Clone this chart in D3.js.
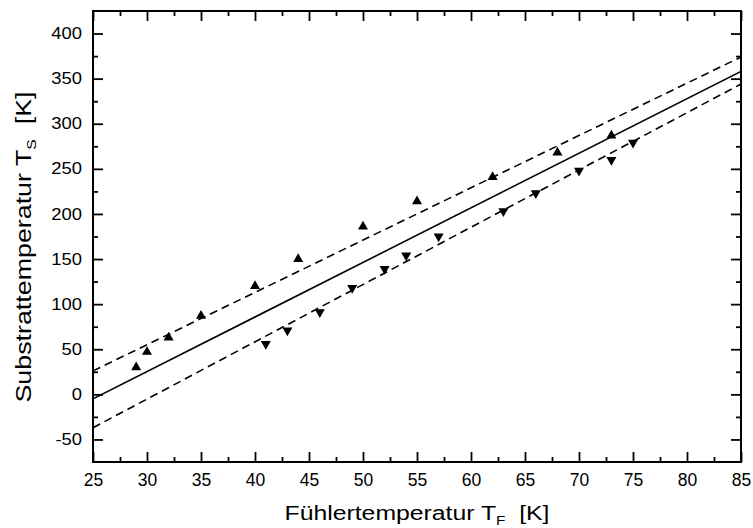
<!DOCTYPE html>
<html>
<head>
<meta charset="utf-8">
<script src="https://cdn.jsdelivr.net/npm/d3@7/dist/d3.min.js"></script>
<style>
  html, body { margin: 0; padding: 0; background: #fff; }
  svg { display: block; font-family: "Liberation Sans", Arial, Helvetica, sans-serif; }
</style>
</head>
<body>
<svg id="chart" width="753" height="528"></svg>
<script>
// ---- data ----
const upX = [29, 30, 32, 35, 40, 44, 50, 55, 62, 68, 73];
const upY = [30, 47, 63, 87, 120, 150, 186, 214, 241, 268, 287];
const downX = [41, 43, 46, 49, 52, 54, 57, 63, 66, 70, 73, 75];
const downY = [56, 71, 91, 118, 139, 154, 175, 203, 223, 248, 260, 279];
const fitX = [25, 85];
const fitMid = [-5, 358];
const fitUpper = [26, 374];
const fitLower = [-37, 344];
const xTicks = [25, 30, 35, 40, 45, 50, 55, 60, 65, 70, 75, 80, 85];
const yTicks = [-50, 0, 50, 100, 150, 200, 250, 300, 350, 400];

// ---- layout ----
const L = 93, R = 741, T = 11, B = 462;
const svg = d3.select("#chart");
const x = d3.scaleLinear().domain([25, 85]).range([L, R]);
const y = d3.scaleLinear().domain([-75, 425]).range([B, T]);

const xMinor = d3.range(27.5, 85, 5);
const yMinor = d3.range(-75, 425, 50).filter(v => v > -75);
const fmt = d => String(d);

svg.append("defs").append("clipPath").attr("id", "clip")
  .append("rect").attr("x", L).attr("y", T).attr("width", R - L).attr("height", B - T);

function styleAxis(g) {
  g.select(".domain").remove();
  g.selectAll(".tick line").attr("stroke", "#000").attr("stroke-width", 1.8);
  g.selectAll("text").attr("fill", "#000");
}
// bottom
const gx = svg.append("g").attr("transform", `translate(0,${B})`)
  .call(d3.axisBottom(x).tickValues(xTicks).tickSize(-10).tickPadding(12).tickFormat(fmt))
  .call(styleAxis);
gx.selectAll("text").attr("font-size", 17.5);
svg.append("g").attr("transform", `translate(0,${B})`)
  .call(d3.axisBottom(x).tickValues(xMinor).tickSize(-5).tickFormat(""))
  .call(styleAxis);
// top
svg.append("g").attr("transform", `translate(0,${T})`)
  .call(d3.axisTop(x).tickValues(xTicks).tickSize(-10).tickFormat(""))
  .call(styleAxis);
svg.append("g").attr("transform", `translate(0,${T})`)
  .call(d3.axisTop(x).tickValues(xMinor).tickSize(-5).tickFormat(""))
  .call(styleAxis);
// left
const gy = svg.append("g").attr("transform", `translate(${L},0)`)
  .call(d3.axisLeft(y).tickValues(yTicks).tickSize(-10).tickPadding(11).tickFormat(fmt))
  .call(styleAxis);
gy.selectAll(".tick text")
  .attr("font-size", 16)
  .attr("x", null)
  .attr("transform", "translate(-11,0) scale(1.15,1)");
svg.append("g").attr("transform", `translate(${L},0)`)
  .call(d3.axisLeft(y).tickValues(yMinor).tickSize(-5).tickFormat(""))
  .call(styleAxis);
// right
svg.append("g").attr("transform", `translate(${R},0)`)
  .call(d3.axisRight(y).tickValues(yTicks).tickSize(-10).tickFormat(""))
  .call(styleAxis);
svg.append("g").attr("transform", `translate(${R},0)`)
  .call(d3.axisRight(y).tickValues(yMinor).tickSize(-5).tickFormat(""))
  .call(styleAxis);

// fit lines
const line = d3.line().x(d => x(d[0])).y(d => y(d[1]));
const plot = svg.append("g").attr("clip-path", "url(#clip)");
plot.append("path").datum(fitX.map((v, i) => [v, fitMid[i]]))
  .attr("d", line).attr("fill", "none").attr("stroke", "#000").attr("stroke-width", 1.6);
plot.append("path").datum(fitX.map((v, i) => [v, fitUpper[i]]))
  .attr("d", line).attr("fill", "none").attr("stroke", "#000").attr("stroke-width", 1.6)
  .attr("stroke-dasharray", "8,5");
plot.append("path").datum(fitX.map((v, i) => [v, fitLower[i]]))
  .attr("d", line).attr("fill", "none").attr("stroke", "#000").attr("stroke-width", 1.6)
  .attr("stroke-dasharray", "8,5");

// markers
const tri = d3.symbol().type(d3.symbolTriangle).size(44);
svg.append("g").selectAll("path.up").data(upX.map((v, i) => [v, upY[i]])).join("path")
  .attr("class", "up").attr("d", tri)
  .attr("transform", d => `translate(${x(d[0])},${y(d[1])})`).attr("fill", "#000");
svg.append("g").selectAll("path.down").data(downX.map((v, i) => [v, downY[i]])).join("path")
  .attr("class", "down").attr("d", tri)
  .attr("transform", d => `translate(${x(d[0])},${y(d[1])}) rotate(180)`).attr("fill", "#000");

// frame
svg.append("rect").attr("x", L).attr("y", T).attr("width", R - L).attr("height", B - T)
  .attr("fill", "none").attr("stroke", "#000").attr("stroke-width", 2);

// axis titles
const xt = svg.append("text").attr("transform", "translate(417,520) scale(1.18,1)")
  .attr("text-anchor", "middle").attr("font-size", 21).attr("fill", "#000");
xt.append("tspan").text("Fühlertemperatur T");
xt.append("tspan").attr("font-size", 13).attr("dy", 5).text("F");
xt.append("tspan").attr("dy", -5).text("\u00a0\u00a0[K]");

const yt = svg.append("text").attr("transform", "translate(31,247) rotate(-90) scale(1.22,1)")
  .attr("text-anchor", "middle").attr("font-size", 22).attr("fill", "#000");
yt.append("tspan").text("Substrattemperatur T");
yt.append("tspan").attr("font-size", 13).attr("dy", 5).text("S");
yt.append("tspan").attr("dy", -5).text("\u00a0\u00a0[K]");
</script>
</body>
</html>
